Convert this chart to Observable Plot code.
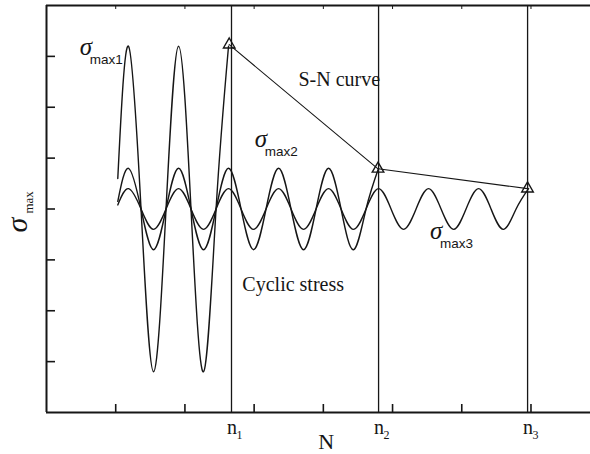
<!DOCTYPE html>
<html><head><meta charset="utf-8">
<script src="https://cdn.jsdelivr.net/npm/d3@7"></script>
<script src="https://cdn.jsdelivr.net/npm/@observablehq/plot@0.6"></script>
<style>body{margin:0;background:#fff}</style>
</head><body><div id="chart"></div>
<script>
// tick positions (unlabelled)
const xTicks = [1, 2, 3, 4, 5, 6, 7];
const yTicks = [1, 2, 3, 4, 5, 6, 7];

// sample positions of the waves: start, then peak / crossing / trough / crossing ...
const waveX = [1.03,
  1.185, 1.366, 1.546, 1.727,
  1.908, 2.088, 2.269, 2.450,
  2.630, 2.811, 2.991, 3.172,
  3.353, 3.533, 3.714, 3.895,
  4.075, 4.256, 4.436, 4.617,
  4.798, 4.978, 5.159, 5.340,
  5.520, 5.701, 5.882, 6.062,
  6.243, 6.423, 6.604, 6.785,
  6.965];
const stress1 = [4.6, 7.2, 4.0, 0.8, 4.0, 7.2, 4.0, 0.8, 4.0, 7.2];
const stress2 = [4.15, 4.8, 4.0, 3.2, 4.0, 4.8, 4.0, 3.2, 4.0, 4.8, 4.0, 3.2, 4.0,
  4.8, 4.0, 3.2, 4.0, 4.8, 4.0, 3.2, 4.0, 4.8];
const stress3 = [4.08, 4.4, 4.0, 3.6, 4.0, 4.4, 4.0, 3.6, 4.0, 4.4, 4.0, 3.6, 4.0,
  4.4, 4.0, 3.6, 4.0, 4.4, 4.0, 3.6, 4.0, 4.4, 4.0, 3.6, 4.0,
  4.4, 4.0, 3.6, 4.0, 4.4, 4.0, 3.6, 4.0, 4.4];

// S-N curve points
const snN = [2.64, 4.79, 6.95];
const snS = [7.23, 4.79, 4.40];

// vertical lines n1, n2, n3
const nLines = [2.673, 4.798, 6.951];
const nSubs = ["1", "2", "3"];

// sigma labels
const sigmaX = [0.48, 3.01, 5.54];
const sigmaY = [7.03, 5.21, 3.42];
const sigmaSub = ["max1", "max2", "max3"];

// notes
const noteText = ["S-N curve", "Cyclic stress"];
const noteX = [3.64, 2.83];
const noteY = [6.42, 2.38];

const toRows = (ys) => ys.map((y, i) => ({x: waveX[i], y}));
const wave1 = toRows(stress1), wave2 = toRows(stress2), wave3 = toRows(stress3);
const sn = snN.map((x, i) => ({x, y: snS[i]}));
const sigmas = sigmaX.map((x, i) => ({x, y: sigmaY[i], sub: sigmaSub[i]}));
const notes = noteText.map((t, i) => ({t, x: noteX[i], y: noteY[i]}));
const nRows = nLines.map((x, i) => ({x, sub: nSubs[i]}));

const ink = "#161616";
const serif = "Liberation Serif";
const sans = "Liberation Sans";
const blank = () => "";

const chart = Plot.plot({
  width: 590, height: 454,
  marginLeft: 46, marginRight: 0, marginTop: 5, marginBottom: 42,
  x: {domain: [0, 7.86], label: null},
  y: {domain: [0, 8], label: null},
  style: {fontFamily: serif, background: "white", color: ink, overflow: "visible"},
  marks: [
    Plot.axisY({ticks: yTicks, tickSize: -9, tickFormat: blank, label: null, stroke: ink, strokeWidth: 1.6}),
    Plot.axisX({ticks: xTicks, tickSize: -8, tickFormat: blank, label: null, stroke: ink, strokeWidth: 1.6}),
    Plot.axisX({anchor: "top", ticks: xTicks, tickSize: -3, tickFormat: blank, label: null, stroke: ink, strokeWidth: 1}),
    Plot.ruleX([0], {stroke: ink, strokeWidth: 2}),
    Plot.ruleY([0, 8], {stroke: ink, strokeWidth: 2}),
    Plot.ruleX(nLines, {stroke: ink, strokeWidth: 1.3}),
    Plot.line(wave3, {x: "x", y: "y", curve: "natural", stroke: ink, strokeWidth: 1.4}),
    Plot.line(wave2, {x: "x", y: "y", curve: "natural", stroke: ink, strokeWidth: 1.4}),
    Plot.line(wave1, {x: "x", y: "y", curve: "natural", stroke: ink, strokeWidth: 1.4}),
    Plot.line(sn, {x: "x", y: "y", stroke: ink, strokeWidth: 1.1}),
    Plot.dot(sn, {x: "x", y: "y", symbol: "triangle", r: 4.3, stroke: ink, fill: "none", strokeWidth: 1.4}),
    Plot.text(sigmas, {x: "x", y: "y", text: () => "σ", fontSize: 25, fontStyle: "italic",
      textAnchor: "start", lineAnchor: "bottom", fill: ink}),
    Plot.text(sigmas, {x: "x", y: "y", text: "sub", fontSize: 13.5, fontFamily: sans,
      textAnchor: "start", lineAnchor: "bottom", dx: 10, dy: 9, fill: ink}),
    Plot.text(notes, {x: "x", y: "y", text: "t", fontSize: 20,
      textAnchor: "start", lineAnchor: "bottom", fill: ink}),
    Plot.text(nRows, {x: "x", frameAnchor: "bottom", text: () => "n", fontSize: 20,
      textAnchor: "start", lineAnchor: "bottom", dx: -4.5, dy: 21, fill: ink}),
    Plot.text(nRows, {x: "x", frameAnchor: "bottom", text: "sub", fontSize: 12,
      textAnchor: "start", lineAnchor: "bottom", dx: 5, dy: 26, fill: ink}),
    Plot.text(["N"], {x: [4.04], frameAnchor: "bottom", text: d => d, fontSize: 22,
      lineAnchor: "bottom", dy: 36, fill: ink}),
    Plot.text(["σ"], {y: [3.54], frameAnchor: "left", text: d => d, fontSize: 30, fontStyle: "italic",
      rotate: -90, textAnchor: "start", lineAnchor: "bottom", dx: -20, fill: ink}),
    Plot.text(["max"], {y: [3.91], frameAnchor: "left", text: d => d, fontSize: 13,
      rotate: -90, textAnchor: "start", lineAnchor: "bottom", dx: -13.5, fill: ink})
  ]
});
document.getElementById("chart").appendChild(chart);
</script>
</body></html>
